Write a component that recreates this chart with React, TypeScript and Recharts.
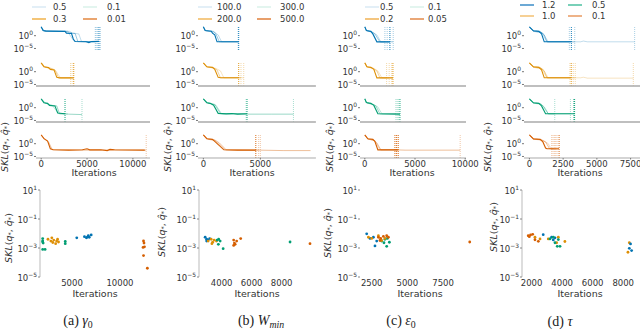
import React from 'react';
import { LineChart, Line, XAxis, YAxis, ReferenceLine, ScatterChart, Scatter } from 'recharts';

type Pt = [number, number];

const BLUE = '#0173b2';
const ORANGE = '#de8f05';
const GREEN = '#029e73';
const RED = '#d55e00';

// ---------------- Panel (a) gamma_0 ----------------
const gammaLegend = ['0.5', '0.3', '0.1', '0.01'];
const gammaBlueRuns: Pt[][] = [
  [[0, 3000], [200, 100], [500, 60], [2600, 50], [2750, 10], [3300, 8], [3500, 0.05], [3700, 5e-3], [4900, 4e-3], [5200, 2e-3], [5500, 5e-3], [6300, 6e-3]],
  [[0, 3000], [300, 100], [2900, 50], [3100, 10], [3700, 8], [4000, 5e-3], [6000, 5e-3]],
  [[0, 2000], [300, 80], [3100, 50], [3400, 10], [4100, 5], [4400, 5e-3], [5900, 4e-3]],
  [[0, 2000], [250, 80], [2700, 40], [3000, 8], [3600, 6e-3], [6450, 5e-3]],
];
const gammaBlueDarkEnds = [6300];
const gammaBlueLightEnds = [5900, 6000, 6150, 6450];
const gammaOrangeRuns: Pt[][] = [
  [[0, 3000], [300, 80], [800, 40], [1000, 8], [1400, 5], [1700, 6e-3], [2000, 4e-3], [3550, 4e-3]],
  [[0, 3000], [400, 80], [1100, 20], [1500, 5], [1900, 4e-3], [3300, 4e-3]],
  [[0, 2000], [400, 60], [1200, 10], [1600, 2], [2100, 4e-3], [3200, 4e-3]],
];
const gammaOrangeDarkEnds = [3550];
const gammaOrangeLightEnds = [3200, 3370];
const gammaGreenRuns: Pt[][] = [
  [[0, 3000], [300, 80], [700, 50], [900, 8], [1500, 5], [1800, 8e-3], [2600, 4e-3]],
  [[0, 3000], [400, 80], [1000, 10], [1700, 5], [2000, 4e-3], [3000, 3e-3], [4450, 2e-3]],
  [[0, 2000], [500, 60], [1200, 8], [1900, 5e-3], [2900, 4e-3]],
];
const gammaGreenDarkEnds = [2600];
const gammaGreenLightEnds = [4450];
const gammaRedRuns: Pt[][] = [
  [[0, 3000], [300, 100], [700, 10], [1000, 0.01], [1300, 4e-3], [3000, 3e-3], [4500, 4e-3], [5000, 1e-2], [5300, 4e-3], [6500, 4e-3], [7200, 2e-3], [7500, 6e-3], [8000, 4e-3], [11300, 3e-3]],
  [[0, 2000], [400, 80], [800, 5], [1200, 5e-3], [4000, 3e-3], [8000, 3e-3], [11450, 3e-3]],
];
const gammaRedDarkEnds: number[] = [];
const gammaRedLightEnds = [11450];
const gammaScBlue: Pt[] = [[5500, 5e-3], [6300, 6e-3], [6500, 5e-3], [6700, 7e-3], [6800, 5.5e-3], [7000, 8e-3], [6600, 5.7e-3]];
const gammaScOrange: Pt[] = [[2500, 4e-3], [2800, 3e-3], [2900, 5e-3], [3000, 2.4e-3], [3100, 3.5e-3], [3300, 2e-3], [3400, 3e-3], [3500, 4e-3], [3600, 2.6e-3]];
const gammaScGreen: Pt[] = [[1950, 4.5e-3], [1950, 3.1e-3], [2000, 2.2e-3], [1950, 2.6e-3], [1950, 8e-4], [2200, 8e-4], [4300, 2.8e-3], [4300, 2e-3]];
const gammaScRed: Pt[] = [[12450, 3.1e-3], [12500, 2.2e-3], [12400, 1.1e-3], [12450, 3e-4], [12850, 4e-5], [12550, 1.2e-3]];

// ---------------- Panel (b) W_min ----------------
const wminLegend = ['100.0', '200.0', '300.0', '500.0'];
const wminBlueRuns: Pt[][] = [
  [[0, 3000], [150, 100], [700, 60], [800, 10], [1000, 2], [1200, 4e-3], [3100, 4e-3]],
  [[0, 3000], [200, 100], [900, 50], [1100, 5], [1400, 4e-3], [3100, 4e-3]],
  [[0, 2000], [200, 80], [1000, 20], [1300, 2], [1600, 4e-3], [3000, 4e-3]],
];
const wminBlueDarkEnds = [3100];
const wminBlueLightEnds = [3050];
const wminOrangeRuns: Pt[][] = [
  [[0, 3000], [300, 80], [800, 50], [1000, 8], [1300, 6e-3], [1500, 4e-3], [3100, 4e-3]],
  [[0, 2500], [300, 80], [900, 30], [1200, 5], [1500, 4e-3], [3300, 4e-3]],
  [[0, 2000], [400, 60], [1100, 20], [1500, 2], [1800, 4e-3], [3540, 4e-3]],
];
const wminOrangeDarkEnds = [3100];
const wminOrangeLightEnds = [3300, 3540];
const wminGreenRuns: Pt[][] = [
  [[0, 3000], [300, 80], [600, 50], [900, 10], [1300, 6e-3], [2000, 4e-3], [2500, 5e-3], [3000, 3e-3], [3830, 4e-3]],
  [[0, 2500], [400, 80], [1000, 20], [1500, 5e-3], [3000, 4e-3], [4000, 3e-3], [6000, 3e-3], [7900, 3e-3]],
  [[0, 2000], [400, 60], [1100, 10], [1600, 4e-3], [3700, 4e-3]],
];
const wminGreenDarkEnds = [3830];
const wminGreenLightEnds = [3750, 7900];
const wminRedRuns: Pt[][] = [
  [[0, 3000], [300, 80], [800, 50], [1000, 8], [1800, 4e-3], [3000, 3e-3], [4600, 3e-3]],
  [[0, 2500], [400, 80], [1000, 30], [1400, 2], [2000, 4e-3], [5000, 3e-3], [7000, 2e-3], [9400, 2e-3]],
  [[0, 2000], [400, 60], [1100, 10], [1900, 4e-3], [4850, 3e-3]],
];
const wminRedDarkEnds = [4600];
const wminRedLightEnds = [4850, 5000];
const wminScBlue: Pt[] = [[2900, 5.5e-3], [3000, 4e-3], [3100, 3.5e-3], [3200, 4.5e-3], [3000, 3e-3]];
const wminScOrange: Pt[] = [[3100, 3e-3], [3300, 4e-3], [3400, 2.5e-3], [3500, 3.5e-3], [3650, 3e-3], [3350, 2e-3]];
const wminScGreen: Pt[] = [[3700, 3.5e-3], [3800, 4e-3], [3900, 3e-3], [3780, 1.8e-3], [4100, 9e-4], [8560, 2.6e-3]];
const wminScRed: Pt[] = [[4800, 3.5e-3], [4850, 2.2e-3], [4900, 1.8e-3], [5000, 3e-3], [4800, 1.5e-3], [5270, 4.5e-3], [9890, 2e-3]];

// ---------------- Panel (c) epsilon_0 ----------------
const epsLegend = ['0.5', '0.2', '0.1', '0.05'];
const epsBlueRuns: Pt[][] = [
  [[0, 3000], [150, 100], [600, 50], [800, 5], [1200, 4e-3], [2500, 4e-3]],
  [[0, 2500], [200, 100], [700, 30], [1000, 5], [1500, 4e-3], [2830, 4e-3]],
  [[0, 2000], [200, 80], [800, 20], [1200, 2], [1600, 4e-3], [2000, 4e-3]],
];
const epsBlueDarkEnds = [2500];
const epsBlueLightEnds = [2000, 2230, 2830];
const epsOrangeRuns: Pt[][] = [
  [[0, 3000], [200, 80], [600, 50], [900, 8], [1200, 4e-3], [2800, 4e-3]],
  [[0, 2500], [250, 80], [800, 20], [1200, 2], [1500, 4e-3], [2430, 4e-3]],
  [[0, 2000], [250, 60], [900, 20], [1300, 2], [1700, 4e-3], [2170, 4e-3]],
];
const epsOrangeDarkEnds = [2800];
const epsOrangeLightEnds = [2170, 2430, 2670];
const epsGreenRuns: Pt[][] = [
  [[0, 3000], [150, 100], [600, 50], [900, 8], [1300, 4e-3], [3500, 3e-3]],
  [[0, 2500], [200, 80], [800, 20], [1100, 5], [1500, 4e-3], [3100, 4e-3]],
  [[0, 2000], [250, 60], [900, 15], [1300, 2], [1700, 4e-3], [3370, 4e-3]],
];
const epsGreenDarkEnds = [3500];
const epsGreenLightEnds = [3100, 3230, 3370];
const epsRedRuns: Pt[][] = [
  [[0, 3000], [300, 80], [800, 50], [1000, 8], [1300, 4e-3], [3330, 4e-3]],
  [[0, 2500], [300, 80], [900, 20], [1200, 2], [1600, 4e-3], [3000, 4e-3], [4000, 3e-3], [9500, 3e-3]],
  [[0, 2000], [300, 60], [1000, 15], [1500, 4e-3], [3170, 4e-3]],
];
const epsRedDarkEnds = [3000, 3170, 3330];
const epsRedLightEnds = [9500];
const epsScBlue: Pt[] = [[2150, 9.5e-3], [2380, 4.6e-3], [2730, 1.4e-3], [2620, 5.5e-3], [2850, 3e-3]];
const epsScOrange: Pt[] = [[2270, 5.5e-3], [2500, 4.6e-3], [2970, 7e-3], [3200, 3.3e-3], [3430, 4.6e-3]];
const epsScGreen: Pt[] = [[3200, 3e-3], [3360, 2.3e-3], [3600, 4.6e-3], [3550, 1.3e-3], [3740, 2.5e-3], [3430, 4e-3]];
const epsScRed: Pt[] = [[2970, 5.5e-3], [3130, 4.6e-3], [3320, 6.3e-3], [3550, 7e-3], [3670, 5.5e-3], [3080, 3.3e-3], [9370, 2.6e-3]];

// ---------------- Panel (d) tau ----------------
const tauLegend = ['1.2', '1.0', '0.5', '0.1'];
const tauBlueRuns: Pt[][] = [
  [[0, 3000], [300, 80], [700, 50], [900, 5], [1100, 4e-3], [3110, 4e-3]],
  [[0, 2500], [300, 80], [800, 50], [1100, 2], [1300, 4e-3], [2960, 4e-3]],
  [[0, 2000], [300, 60], [900, 20], [1300, 4e-3], [3360, 4e-3]],
  [[0, 2000], [300, 50], [1000, 10], [1400, 4e-3], [3800, 4e-3], [4000, 8e-3], [4300, 4e-3], [7800, 4e-3]],
];
const tauBlueDarkEnds = [3110];
const tauBlueLightEnds = [2960, 3360, 7800];
const tauOrangeRuns: Pt[][] = [
  [[0, 3000], [300, 80], [700, 50], [900, 5], [1100, 4e-3], [3100, 4e-3]],
  [[0, 2500], [300, 80], [800, 50], [1100, 2], [1300, 4e-3], [3000, 4e-3]],
  [[0, 2000], [300, 60], [900, 20], [1300, 4e-3], [3400, 4e-3]],
  [[0, 2000], [300, 50], [1000, 10], [1400, 4e-3], [3800, 4e-3], [4000, 7e-3], [4300, 3e-3], [7700, 3e-3]],
];
const tauOrangeDarkEnds = [3100];
const tauOrangeLightEnds = [3000, 3250, 3400, 7700];
const tauGreenRuns: Pt[][] = [
  [[0, 3000], [300, 80], [700, 50], [900, 5], [1200, 4e-3], [3350, 4e-3]],
  [[0, 2500], [300, 80], [800, 40], [1100, 2], [1400, 4e-3], [1880, 4e-3]],
  [[0, 2000], [300, 60], [900, 20], [1400, 4e-3], [3040, 4e-3]],
];
const tauGreenDarkEnds = [3300, 3350];
const tauGreenLightEnds = [1880, 3040];
const tauRedRuns: Pt[][] = [
  [[0, 3000], [300, 80], [800, 50], [1000, 5], [1200, 0.02], [1300, 1e-2], [2200, 1e-2]],
  [[0, 2500], [300, 80], [900, 30], [1200, 5], [1500, 1e-2], [1800, 1e-2]],
  [[0, 2000], [300, 60], [1000, 20], [1400, 1], [1600, 1e-2], [2000, 1e-2]],
];
const tauRedDarkEnds = [2200];
const tauRedLightEnds = [1650, 1750, 1850, 1950, 2050];
const tauScBlue: Pt[] = [[2760, 8.3e-3], [3310, 5.5e-3], [3420, 3.6e-3], [3530, 5e-3], [8400, 9.5e-4], [8550, 6.6e-4], [8480, 1.9e-3]];
const tauScOrange: Pt[] = [[2220, 5.5e-3], [2550, 4.2e-3], [3090, 4.2e-3], [3640, 2.3e-3], [4180, 2.8e-3], [3750, 5.5e-3], [8400, 2.3e-3], [8310, 5.1e-4]];
const tauScGreen: Pt[] = [[3200, 4.2e-3], [3530, 2.3e-3], [3680, 1.3e-3], [3860, 1.3e-3], [3420, 5.5e-3], [3750, 3.8e-3]];
const tauScRed: Pt[] = [[1780, 7e-3], [1930, 8e-3], [2070, 8.8e-3], [1850, 6e-3], [2220, 3.7e-3], [2440, 2.9e-3]];

// ---------------- layout ----------------
const ROW_TOPS = [26, 62, 98, 134];
const ROW_H = 24;
const Y_LO = Math.pow(10, -5.6);
const Y_HI = Math.pow(10, 3.8);
const SC_TOP = 190;
const SC_BOTTOM = 277;
const TXT = '#333';

function PowTick(props: any) {
  const { x, y, payload, fs = 8.5 } = props;
  const e = Math.round(Math.log10(payload.value));
  const es = e < 0 ? '\u2212' + String(-e) : String(e);
  return (
    <text x={x} y={y + 3.5} textAnchor="end" fontSize={fs} fill={TXT}>
      10<tspan dy={-4} fontSize={fs * 0.7}>{es}</tspan>
    </text>
  );
}

function SmallChart(p: any) {
  const YW = 34;
  const MR = 14;
  const w = p.right - p.left;
  const xh = p.kind === 'labels' ? 14 : 4;
  const mt = 2;
  const data = (r: Pt[]) => r.map(([x, y]) => ({ x, y }));
  return (
    <div style={{ position: 'absolute', left: p.left - YW, top: p.top - mt }}>
      <LineChart width={YW + w + MR} height={mt + ROW_H + xh} margin={{ top: mt, right: MR, left: 0, bottom: 0 }}>
        <XAxis
          type="number"
          dataKey="x"
          domain={p.domain}
          ticks={p.ticks}
          allowDataOverflow
          height={xh}
          axisLine={p.kind === 'dots' ? false : { stroke: '#aaa', strokeWidth: p.kind === 'line' ? 1.6 : 1 }}
          tickLine={{ stroke: '#777' }}
          tickSize={1.5}
          tickMargin={1}
          tick={p.kind === 'labels' ? { fontSize: 8.5, fill: TXT } : false}
          interval={0}
        />
        <YAxis
          type="number"
          scale="log"
          domain={[Y_LO, Y_HI]}
          allowDataOverflow
          ticks={[1, 1e-5]}
          width={YW}
          axisLine={false}
          tickLine={{ stroke: '#777' }}
          tickSize={2}
          tickMargin={1}
          interval={0}
          tick={<PowTick fs={8.5} />}
        />
        {p.lightEnds.map((v: number, i: number) => (
          <ReferenceLine key={'le' + i} x={v} stroke={p.color} strokeOpacity={0.35} strokeDasharray="1 1" strokeWidth={1} />
        ))}
        {p.runs.slice(1).map((r: Pt[], i: number) => (
          <Line key={'l' + i} data={data(r)} dataKey="y" type="linear" stroke={p.color} strokeOpacity={i === 0 ? 0.4 : 0.25} strokeWidth={1} dot={false} isAnimationActive={false} />
        ))}
        <Line data={data(p.runs[0])} dataKey="y" type="linear" stroke={p.color} strokeWidth={1.1} dot={false} isAnimationActive={false} />
        {p.darkEnds.map((v: number, i: number) => (
          <ReferenceLine key={'de' + i} x={v} stroke={p.color} strokeOpacity={0.9} strokeDasharray="1 1" strokeWidth={1} />
        ))}
      </LineChart>
    </div>
  );
}

function ScatterPanel(p: any) {
  const YW = 30;
  const MR = 14;
  const w = p.R - p.L;
  const h = SC_BOTTOM - SC_TOP;
  const mt = 7;
  return (
    <div style={{ position: 'absolute', left: p.L - YW, top: SC_TOP - mt }}>
      <ScatterChart width={YW + w + MR} height={mt + h + 14} margin={{ top: mt, right: MR, left: 0, bottom: 0 }}>
        <XAxis type="number" dataKey="x" domain={p.dom} ticks={p.ticks} allowDataOverflow height={14} axisLine={false} tickLine={false} tickSize={1} tickMargin={2} interval={0} tick={{ fontSize: 8.5, fill: TXT }} />
        <YAxis type="number" dataKey="y" scale="log" domain={[1e-5, 10]} ticks={[10, 0.1, 1e-3, 1e-5]} allowDataOverflow width={YW} axisLine={p.spine ? { stroke: '#bbb' } : false} tickLine={{ stroke: '#888' }} tickSize={2} tickMargin={1} interval={0} tick={<PowTick fs={8.5} />} />
        {p.series.map((s: any, i: number) => (
          <Scatter
            key={i}
            data={s[0].map(([x, y]: Pt) => ({ x, y }))}
            fill={s[1]}
            isAnimationActive={false}
            shape={(q: any) => <circle cx={q.cx} cy={q.cy} r={1.4} fill={s[1]} />}
          />
        ))}
      </ScatterChart>
    </div>
  );
}

function Skl({ x, y }: any) {
  return (
    <div style={{ position: 'absolute', left: x, top: y, transform: 'translate(-50%,-50%) rotate(-90deg)', fontSize: 9.5, color: TXT, whiteSpace: 'nowrap', lineHeight: 1 }}>
      <i>SKL</i>(<i>q</i><sub style={{ fontSize: '70%', verticalAlign: '-0.2em' }}>*</sub>, <i>q&#770;</i><sub style={{ fontSize: '70%', verticalAlign: '-0.2em' }}>*</sub>)
    </div>
  );
}

function Label({ x, y, children, style }: any) {
  return (
    <div style={{ position: 'absolute', left: x, top: y, transform: 'translate(-50%,-50%)', whiteSpace: 'nowrap', lineHeight: 1, ...style }}>
      {children}
    </div>
  );
}

function Legend({ labels, colors, lineX, textX, rowY }: any) {
  const items = [0, 1, 2, 3].map((k) => {
    const col = k < 2 ? 0 : 1;
    const row = k % 2;
    return (
      <React.Fragment key={k}>
        <svg style={{ position: 'absolute', left: lineX[col], top: rowY[row] - 3 }} width={14} height={6}>
          <line x1={0} x2={14} y1={3} y2={3} stroke={colors[k]} strokeWidth={1.5} />
        </svg>
        <div style={{ position: 'absolute', left: textX[col], top: rowY[row] - 5, fontSize: 8.5, color: TXT, lineHeight: '10px', whiteSpace: 'nowrap' }}>{labels[k]}</div>
      </React.Fragment>
    );
  });
  return <>{items}</>;
}

const FAINT_B = 'rgba(1,115,178,0.15)';
const FAINT_G = 'rgba(2,158,115,0.15)';

const panels: any[] = [
  {
    plotL: 36, plotR: 150, dom: [-565, 11865], ticks: [0, 5000, 10000],
    rows: [
      { color: BLUE, runs: gammaBlueRuns, darkEnds: gammaBlueDarkEnds, lightEnds: gammaBlueLightEnds },
      { color: ORANGE, runs: gammaOrangeRuns, darkEnds: gammaOrangeDarkEnds, lightEnds: gammaOrangeLightEnds },
      { color: GREEN, runs: gammaGreenRuns, darkEnds: gammaGreenDarkEnds, lightEnds: gammaGreenLightEnds },
      { color: RED, runs: gammaRedRuns, darkEnds: gammaRedDarkEnds, lightEnds: gammaRedLightEnds },
    ],
    sc: { L: 40, R: 150, dom: [1670, 13125], ticks: [5000, 10000], spine: true, series: [[gammaScGreen, GREEN], [gammaScOrange, ORANGE], [gammaScBlue, BLUE], [gammaScRed, RED]] },
    legend: { labels: gammaLegend, colors: [FAINT_B, '#f0b24a', FAINT_G, '#e3873f'], lineX: [32, 83], textX: [53, 107], rowY: [7, 19] },
    caption: { x: 78, node: <span>(a) <i>γ</i><sub style={{ fontSize: '70%', verticalAlign: '-0.25em' }}>0</sub></span> },
    iterX: 94, iterX2: 95, sklX: 5, sklY: 147, sklX2: 9, sklY2: 238,
  },
  {
    plotL: 197.6, plotR: 315.5, dom: [-470, 9870], ticks: [0, 5000],
    rows: [
      { color: BLUE, runs: wminBlueRuns, darkEnds: wminBlueDarkEnds, lightEnds: wminBlueLightEnds },
      { color: ORANGE, runs: wminOrangeRuns, darkEnds: wminOrangeDarkEnds, lightEnds: wminOrangeLightEnds },
      { color: GREEN, runs: wminGreenRuns, darkEnds: wminGreenDarkEnds, lightEnds: wminGreenLightEnds },
      { color: RED, runs: wminRedRuns, darkEnds: wminRedDarkEnds, lightEnds: wminRedLightEnds },
    ],
    sc: { L: 199, R: 313, dom: [2490, 10090], ticks: [4000, 6000, 8000], spine: true, series: [[wminScBlue, BLUE], [wminScOrange, ORANGE], [wminScGreen, GREEN], [wminScRed, RED]] },
    legend: { labels: wminLegend, colors: [FAINT_B, '#f2b85e', FAINT_G, '#e07f3a'], lineX: [198, 257], textX: [217, 280], rowY: [7, 19] },
    caption: { x: 261, node: <span>(b) <i>W</i><sub style={{ fontSize: '70%', verticalAlign: '-0.25em' }}><i>min</i></sub></span> },
    iterX: 252, iterX2: 257, sklX: 168, sklY: 147, sklX2: 162, sklY2: 232,
  },
  {
    plotL: 360, plotR: 466, dom: [-480, 10080], ticks: [0, 5000, 10000],
    rows: [
      { color: BLUE, runs: epsBlueRuns, darkEnds: epsBlueDarkEnds, lightEnds: epsBlueLightEnds },
      { color: ORANGE, runs: epsOrangeRuns, darkEnds: epsOrangeDarkEnds, lightEnds: epsOrangeLightEnds },
      { color: GREEN, runs: epsGreenRuns, darkEnds: epsGreenDarkEnds, lightEnds: epsGreenLightEnds },
      { color: RED, runs: epsRedRuns, darkEnds: epsRedDarkEnds, lightEnds: epsRedLightEnds },
    ],
    sc: { L: 360, R: 475, dom: [1680, 9740], ticks: [2500, 5000, 7500], spine: false, series: [[epsScBlue, BLUE], [epsScGreen, GREEN], [epsScOrange, ORANGE], [epsScRed, RED]] },
    legend: { labels: epsLegend, colors: [FAINT_B, '#f0b255', FAINT_G, '#e38a4a'], lineX: [365, 410], textX: [380, 428], rowY: [7, 19] },
    caption: { x: 401, node: <span>(c) <i>ε</i><sub style={{ fontSize: '70%', verticalAlign: '-0.25em' }}>0</sub></span> },
    iterX: 412, iterX2: 420, sklX: 330, sklY: 147, sklX2: 328, sklY2: 233,
  },
  {
    plotL: 523.6, plotR: 643.7, dom: [-400, 8500], ticks: [0, 2500, 5000, 7500],
    rows: [
      { color: BLUE, runs: tauBlueRuns, darkEnds: tauBlueDarkEnds, lightEnds: tauBlueLightEnds },
      { color: ORANGE, runs: tauOrangeRuns, darkEnds: tauOrangeDarkEnds, lightEnds: tauOrangeLightEnds },
      { color: GREEN, runs: tauGreenRuns, darkEnds: tauGreenDarkEnds, lightEnds: tauGreenLightEnds },
      { color: RED, runs: tauRedRuns, darkEnds: tauRedDarkEnds, lightEnds: tauRedLightEnds },
    ],
    sc: { L: 522, R: 640, dom: [1370, 9100], ticks: [2000, 4000, 6000, 8000], spine: true, series: [[tauScOrange, ORANGE], [tauScBlue, BLUE], [tauScGreen, GREEN], [tauScRed, RED]] },
    legend: { labels: tauLegend, colors: ['#3b8dc7', '#f3c172', '#4cc0a0', '#e99a60'], lineX: [520, 568], textX: [542, 592], rowY: [5, 16] },
    caption: { x: 560, node: <span>(d) <i>τ</i></span> },
    iterX: 580, iterX2: 580, sklX: 488, sklY: 147, sklX2: 494, sklY2: 227,
  },
];

export default function App() {
  return (
    <div style={{ position: 'absolute', left: 0, top: 0, width: 640, height: 333, overflow: 'hidden', background: '#fff', fontFamily: "'DejaVu Sans', sans-serif" }}>
      {panels.map((pn, pi) => (
        <React.Fragment key={pi}>
          <Legend {...pn.legend} />
          {pn.rows.map((r: any, ri: number) => (
            <SmallChart
              key={ri}
              left={pn.plotL}
              right={pn.plotR}
              top={ROW_TOPS[ri]}
              domain={pn.dom}
              ticks={pn.ticks}
              kind={ri === 0 ? 'dots' : ri === 3 ? 'labels' : 'line'}
              {...r}
            />
          ))}
          <Label x={pn.iterX} y={173} style={{ fontSize: 9.5, color: TXT }}>Iterations</Label>
          <Skl x={pn.sklX} y={pn.sklY} />
          <ScatterPanel {...pn.sc} />
          <Label x={pn.iterX2} y={294} style={{ fontSize: 9.5, color: TXT }}>Iterations</Label>
          <Skl x={pn.sklX2} y={pn.sklY2} />
          <Label x={pn.caption.x} y={322} style={{ fontSize: 14, color: '#222', fontFamily: "'Liberation Serif', 'DejaVu Serif', serif" }}>{pn.caption.node}</Label>
        </React.Fragment>
      ))}
    </div>
  );
}
